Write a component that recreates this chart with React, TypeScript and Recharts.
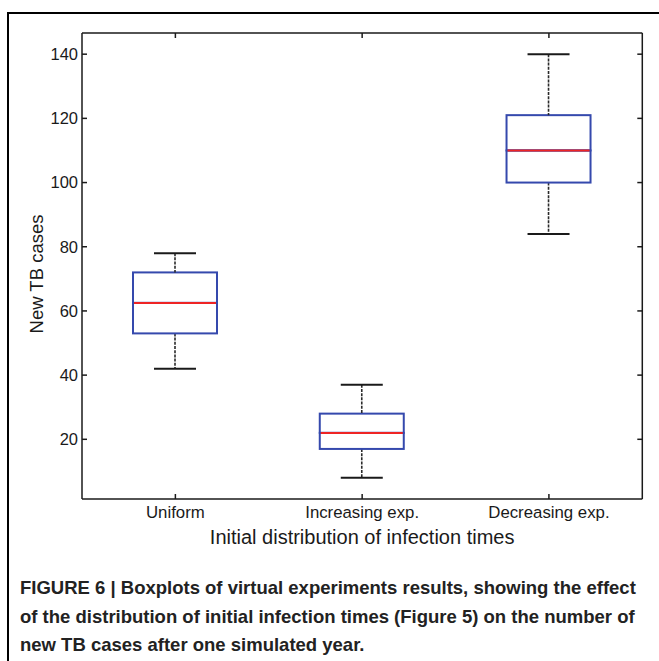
import React from 'react'
import { ComposedChart, Bar, XAxis, YAxis } from 'recharts'

// values
const categories = ['Uniform', 'Increasing exp.', 'Decreasing exp.']
const whiskerLow = [42, 8, 84]
const q1 = [53, 17, 100]
const median = [62.5, 22, 110]
const q3 = [72, 28, 121]
const whiskerHigh = [78, 37, 140]
const yTicks = [20, 40, 60, 80, 100, 120, 140]
const yDomain: [number, number] = [1.4, 146.6]

const data = categories.map((name, i) => ({
  name,
  base: whiskerLow[i],
  lowWhisker: q1[i] - whiskerLow[i],
  lowBox: median[i] - q1[i],
  highBox: q3[i] - median[i],
  highWhisker: whiskerHigh[i] - q3[i],
}))

const FONT = '"Liberation Sans", Arial, Helvetica, sans-serif'
const BLUE = '#3549ad'
const RED = '#ee2424'
const INK = '#1a1a1a'

const Nothing = () => <g />

const LowWhisker = (p: any) => {
  const { x, y, width, height } = p
  const cx = x + width / 2
  return (
    <g>
      <line x1={cx} x2={cx} y1={y} y2={y + height} stroke="#2a2a2a" strokeWidth={1.6} strokeDasharray="3 1.2" />
      <line x1={cx - width / 4} x2={cx + width / 4} y1={y + height} y2={y + height} stroke={INK} strokeWidth={2} />
    </g>
  )
}

const HighWhisker = (p: any) => {
  const { x, y, width, height } = p
  const cx = x + width / 2
  return (
    <g>
      <line x1={cx} x2={cx} y1={y} y2={y + height} stroke="#2a2a2a" strokeWidth={1.6} strokeDasharray="3 1.2" />
      <line x1={cx - width / 4} x2={cx + width / 4} y1={y} y2={y} stroke={INK} strokeWidth={2} />
    </g>
  )
}

const LowBox = (p: any) => {
  const { x, y, width, height } = p
  return <rect x={x} y={y} width={width} height={height} fill="none" stroke={BLUE} strokeWidth={2} />
}

const HighBox = (p: any) => {
  const { x, y, width, height } = p
  return (
    <g>
      <rect x={x} y={y} width={width} height={height} fill="none" stroke={BLUE} strokeWidth={2} />
      <line x1={x + 1} x2={x + width - 1} y1={y + height} y2={y + height} stroke={RED} strokeWidth={2} />
    </g>
  )
}

const axisLine = { stroke: INK, strokeWidth: 1.5 }
const tickLine = { stroke: INK, strokeWidth: 1.5 }

export default function App() {
  return (
    <div style={{ position: 'absolute', left: 0, top: 0, width: 659, height: 661, background: '#fff', overflow: 'hidden', fontFamily: FONT }}>
      <div style={{ position: 'absolute', left: 7, top: 12, width: 700, height: 700, borderLeft: '2px solid #000', borderTop: '2px solid #000' }} />
      <div style={{ position: 'absolute', left: 0, top: 0 }}>
        <ComposedChart width={659} height={560} data={data} margin={{ top: 0, right: 0, bottom: 11, left: 0 }}>
          <XAxis
            dataKey="name"
            xAxisId={0}
            height={50}
            axisLine={axisLine}
            tickLine={tickLine}
            tickSize={-5}
            tickMargin={12}
            tick={{ fill: INK, fontSize: 16.8, fontFamily: FONT }}
            label={{ value: 'Initial distribution of infection times', position: 'insideBottom', offset: 5, fill: INK, fontSize: 20, fontFamily: FONT }}
          />
          <XAxis
            dataKey="name"
            xAxisId="top"
            orientation="top"
            height={33}
            axisLine={axisLine}
            tickLine={tickLine}
            tickSize={-5}
            tickFormatter={() => ''}
          />
          <YAxis
            yAxisId={0}
            type="number"
            width={82}
            domain={yDomain}
            allowDataOverflow
            ticks={yTicks}
            interval={0}
            axisLine={axisLine}
            tickLine={tickLine}
            tickSize={-5}
            tickMargin={9}
            tick={{ fill: INK, fontSize: 16.5, fontFamily: FONT }}
            label={{ value: 'New TB cases', angle: -90, position: 'center', dx: -5, dy: 8, fill: INK, fontSize: 18.5, fontFamily: FONT }}
          />
          <YAxis
            yAxisId="right"
            orientation="right"
            type="number"
            width={16.7}
            domain={yDomain}
            allowDataOverflow
            ticks={yTicks}
            interval={0}
            axisLine={axisLine}
            tickLine={tickLine}
            tickSize={-5}
            tickFormatter={() => ''}
          />
          <Bar dataKey="base" stackId="box" barSize={84} shape={<Nothing />} isAnimationActive={false} />
          <Bar dataKey="lowWhisker" stackId="box" barSize={84} shape={<LowWhisker />} isAnimationActive={false} />
          <Bar dataKey="lowBox" stackId="box" barSize={84} shape={<LowBox />} isAnimationActive={false} />
          <Bar dataKey="highBox" stackId="box" barSize={84} shape={<HighBox />} isAnimationActive={false} />
          <Bar dataKey="highWhisker" stackId="box" barSize={84} shape={<HighWhisker />} isAnimationActive={false} />
        </ComposedChart>
      </div>
      <div style={{ position: 'absolute', left: 20, top: 574, fontFamily: FONT, fontWeight: 'bold', fontSize: 18.5, lineHeight: '28.5px', color: '#222', whiteSpace: 'nowrap' }}>
        <div>FIGURE 6 | Boxplots of virtual experiments results, showing the effect</div>
        <div>of the distribution of initial infection times (Figure 5) on the number of</div>
        <div>new TB cases after one simulated year.</div>
      </div>
    </div>
  )
}
